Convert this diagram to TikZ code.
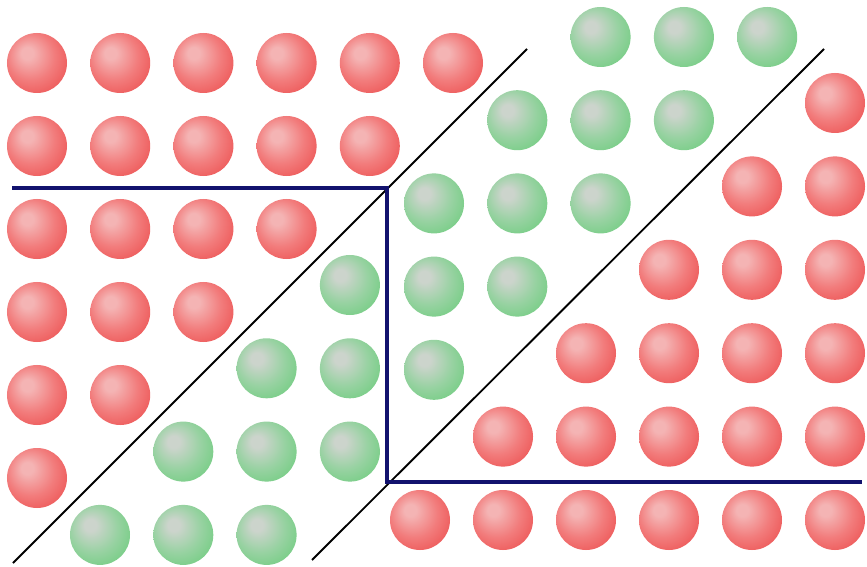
\documentclass[tikz,border=0pt]{standalone}
\usepackage{tikz}
\usetikzlibrary{positioning}

\definecolor{redhi}{HTML}{F4B4B4}
\definecolor{redmid}{HTML}{F27C7C}
\definecolor{redlo}{HTML}{EC4E4E}
\definecolor{greenhi}{HTML}{CCD4CC}
\definecolor{greenmid}{HTML}{98D2A2}
\definecolor{greenlo}{HTML}{6CCC7C}
\definecolor{stepblue}{HTML}{12126E}

\pgfdeclareradialshading{redball}{\pgfpoint{-9bp}{9bp}}{color(0bp)=(redhi); color(5bp)=(redhi); color(20bp)=(redmid); color(36bp)=(redlo); color(50bp)=(redlo)}
\pgfdeclareradialshading{greenball}{\pgfpoint{-9bp}{9bp}}{color(0bp)=(greenhi); color(5bp)=(greenhi); color(20bp)=(greenmid); color(36bp)=(greenlo); color(50bp)=(greenlo)}

\begin{document}
\begin{tikzpicture}[
    x=0.03cm, y=-0.03cm,
    ball/.style={circle, inner sep=0pt, minimum size=1.8cm},
    red ball/.style={ball, shading=redball},
    green ball/.style={ball, shading=greenball},
    diag/.style={black, line width=1.6pt},
    stepline/.style={stepblue, line width=3pt, line join=miter}
]
\fill[white] (0,0) rectangle (867,567);
\useasboundingbox (0,0) rectangle (867,567);

% red, upper left
\foreach \j in {0,...,5}{
    \pgfmathtruncatemacro\last{5-\j}
    \foreach \i in {0,...,\last}
        \node[red ball] (rl-\i-\j) at ({37+83.2*\i},{63+83*\j}) {};
}

% green, lower left band
\foreach \i/\j in {3/0, 2/1, 3/1, 1/2, 2/2, 3/2, 0/3, 1/3, 2/3}
    \node[green ball] (gl-\i-\j) at ({100+83.3*\i},{285+83.3*\j}) {};

% green, upper right band
\foreach \i/\j in {2/0, 3/0, 4/0, 1/1, 2/1, 3/1, 0/2, 1/2, 2/2, 0/3, 1/3, 0/4}
    \node[green ball] (gr-\i-\j) at ({434+83.3*\i},{37+83.2*\j}) {};

% red, lower right
\foreach \j in {0,...,5}{
    \pgfmathtruncatemacro\first{5-\j}
    \foreach \i in {\first,...,5}
        \node[red ball] (rr-\i-\j) at ({420+83*\i},{103+83.4*\j}) {};
}

\coordinate (d1a) at (13,563);
\coordinate (d1b) at (527,49);
\coordinate (d2a) at (312,560);
\coordinate (d2b) at (824,49);
\draw[diag] (d1a) -- (d1b);
\draw[diag] (d2a) -- (d2b);

\coordinate (s1) at (12,188);
\coordinate (s2) at (387,188);
\coordinate (s3) at (387,482);
\coordinate (s4) at (862,482);
\draw[stepline] (s1) -- (s2) -- (s3) -- (s4);
\end{tikzpicture}
\end{document}
